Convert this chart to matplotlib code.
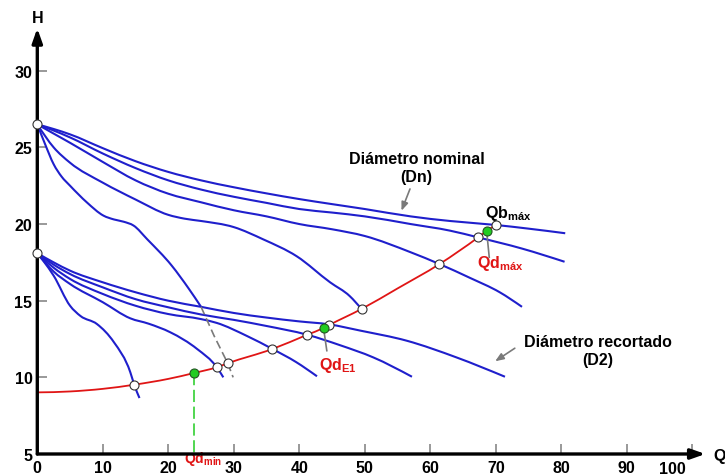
import matplotlib
matplotlib.use("Agg")
import matplotlib.pyplot as plt
from matplotlib.path import Path
from matplotlib.patches import PathPatch

plt.rcParams["font.family"] = ["Liberation Sans", "DejaVu Sans"]
plt.rcParams["font.weight"] = "bold"
plt.rcParams["mathtext.fontset"] = "custom"
plt.rcParams["mathtext.rm"] = "Liberation Sans:bold"
plt.rcParams["mathtext.bf"] = "Liberation Sans:bold"
plt.rcParams["mathtext.it"] = "Liberation Sans:bold"
plt.rcParams["mathtext.default"] = "rm"

# ---- Pump curves at nominal impeller diameter (Dn) ----
n1_q = [0, 2.5, 5, 10, 15, 20, 25, 30, 35, 40, 45, 50, 57, 63, 70, 75, 80.6]
n1_h = [26.5, 26.2, 25.85, 24.95, 24.1, 23.4, 22.85, 22.4, 22.0, 21.63, 21.3, 20.98, 20.5, 20.2, 19.94, 19.7, 19.4]
n2_q = [0, 2.5, 5, 10, 15, 20, 25, 30, 35, 40, 45, 50, 57, 63, 67.3, 74, 80.5]
n2_h = [26.5, 26.1, 25.65, 24.6, 23.65, 22.85, 22.25, 21.78, 21.38, 20.98, 20.75, 20.5, 20.0, 19.57, 19.13, 18.4, 17.54]
n3_q = [0, 2.5, 5, 10, 15, 20, 25, 30, 35, 40, 45, 50, 57, 61.4, 66, 70.6, 74]
n3_h = [26.5, 25.9, 25.3, 24.05, 22.85, 21.98, 21.42, 20.9, 20.5, 20.0, 19.66, 19.22, 18.16, 17.39, 16.5, 15.55, 14.6]
n4_q = [0, 2.5, 5, 10, 15, 20, 22.5, 25, 30, 34.5, 39.6, 44.7, 47.7, 49.5]
n4_h = [26.5, 25.0, 24.0, 22.7, 21.6, 20.6, 20.35, 20.2, 19.8, 19.0, 17.9, 16.2, 15.3, 14.46]
n5_q = [0, 1.2, 2.5, 3.7, 5, 7.6, 10.1, 11.7, 13.2, 14.7, 16.8, 20.5, 23.1, 25.0]
n5_h = [26.5, 25.2, 23.9, 23.1, 22.5, 21.4, 20.55, 20.3, 20.15, 19.9, 19.0, 17.3, 15.8, 14.6]
n5_ext_q = [25.0, 27.0, 29.07, 29.9]
n5_ext_h = [14.6, 12.7, 10.92, 10.0]

# ---- Pump curves at trimmed impeller diameter (D2) ----
r1_q = [0, 2.5, 5, 10, 15, 20, 25, 30, 35, 40, 44.5, 49.3, 56.4, 64, 71.4]
r1_h = [18.1, 17.5, 16.96, 16.2, 15.55, 15.0, 14.6, 14.2, 13.9, 13.65, 13.46, 13.05, 12.39, 11.3, 10.04]
r2_q = [0, 2.5, 5, 10, 15, 20, 25, 30, 35, 41.2, 46.2, 51.3, 57.2]
r2_h = [18.1, 17.35, 16.74, 15.87, 15.1, 14.57, 14.1, 13.75, 13.35, 12.78, 12.1, 11.3, 10.04]
r3_q = [0, 2.5, 5, 10, 15, 20, 25, 27.4, 32, 35.9, 39.5, 42.7]
r3_h = [18.1, 17.15, 16.42, 15.44, 14.67, 14.13, 13.8, 13.55, 12.7, 11.85, 11.0, 10.07]
r4_q = [0, 2.5, 5, 10, 14.2, 17, 20.3, 24.4, 27.4, 28.4]
r4_h = [18.1, 16.9, 16.09, 14.9, 13.85, 13.5, 12.94, 11.85, 10.66, 10.0]
r5_q = [0, 1, 2.5, 5, 6.6, 9.1, 11.7, 14.2, 14.8, 15.6]
r5_h = [18.1, 17.55, 16.63, 14.67, 14.0, 13.48, 12.29, 10.33, 9.52, 8.65]

# ---- System curve ----
sys_q = [0, 5, 10, 14.8, 20, 23.9, 27.4, 29.07, 35.9, 41.2, 43.7, 44.5, 49.5, 55, 61.4, 67.3, 68.6, 70.0]
sys_h = [9.02, 9.08, 9.25, 9.52, 9.9, 10.28, 10.66, 10.92, 11.85, 12.78, 13.22, 13.4, 14.46, 15.8, 17.39, 19.13, 19.55, 19.94]

# Intersections (open) and duty points (green)
open_q = [0, 0, 14.8, 27.4, 29.07, 35.9, 41.2, 44.5, 49.5, 61.4, 67.3, 70.0]
open_h = [26.5, 18.1, 9.52, 10.66, 10.92, 11.85, 12.78, 13.4, 14.46, 17.39, 19.13, 19.94]
duty_q = [23.9, 43.7, 68.6]
duty_h = [10.28, 13.22, 19.55]

x_ticks = [0, 10, 20, 30, 40, 50, 60, 70, 80, 90, 100]
y_ticks = [5, 10, 15, 20, 25, 30]

BLUE = "#1f1fcc"
RED = "#e01515"
GREEN = "#22cc22"
GRAY = "#7a7a7a"


def monotone_path(x, y):
    """Smooth monotone cubic (Fritsch-Carlson style) Bezier path through the points."""
    n = len(x)
    h = [x[i + 1] - x[i] for i in range(n - 1)]
    s = [(y[i + 1] - y[i]) / h[i] for i in range(n - 1)]
    m = [0.0] * n
    for i in range(1, n - 1):
        if s[i - 1] * s[i] <= 0:
            m[i] = 0.0
        else:
            p = (s[i - 1] * h[i] + s[i] * h[i - 1]) / (h[i - 1] + h[i])
            sign = 1 if s[i] > 0 else -1
            m[i] = sign * min(abs(s[i - 1]), abs(s[i]), 0.5 * abs(p)) * 2
    if n > 2:
        m[0] = (3 * s[0] - m[1]) / 2
        m[-1] = (3 * s[-1] - m[-2]) / 2
    else:
        m[0] = m[-1] = s[0]
    verts = [(x[0], y[0])]
    codes = [Path.MOVETO]
    for i in range(n - 1):
        d = h[i] / 3
        verts += [(x[i] + d, y[i] + m[i] * d), (x[i + 1] - d, y[i + 1] - m[i + 1] * d), (x[i + 1], y[i + 1])]
        codes += [Path.CURVE4] * 3
    return Path(verts, codes)


def draw_curve(ax, x, y, color, lw, z):
    ax.add_patch(PathPatch(monotone_path(x, y), fill=False, edgecolor=color, lw=lw,
                           joinstyle="round", capstyle="butt", zorder=z))


fig = plt.figure(figsize=(7.25, 4.77), dpi=100)
ax = fig.add_axes([37.3 / 725, 22 / 477, 687.7 / 725, 455 / 477])
ax.set_xlim(0, 687.7 / 6.55)
ax.set_ylim(5, 5 + 455 / 15.33)
for sp in ax.spines.values():
    sp.set_visible(False)

for q, hh in [(n1_q, n1_h), (n2_q, n2_h), (n3_q, n3_h), (n4_q, n4_h), (n5_q, n5_h),
              (r1_q, r1_h), (r2_q, r2_h), (r3_q, r3_h), (r4_q, r4_h), (r5_q, r5_h)]:
    draw_curve(ax, q, hh, BLUE, 1.5, 3)
ax.plot(n5_ext_q, n5_ext_h, color=GRAY, lw=1.2, ls=(0, (5, 2.5)), zorder=3)

draw_curve(ax, sys_q, sys_h, RED, 1.3, 4)

# Qd_min drop line to the Q axis
ax.plot([duty_q[0], duty_q[0]], [duty_h[0], 5], color=GREEN, lw=1.1, ls=(0, (8, 3)), zorder=2)

# Leader lines for the duty point labels
ax.plot([duty_q[1], 44.2], [duty_h[1], 11.74], color=GRAY, lw=1.2, zorder=4)
ax.plot([duty_q[2], 69.0], [duty_h[2], 17.83], color=GRAY, lw=1.2, zorder=4)

ax.plot(open_q, open_h, "o", ms=6.5, mfc="white", mec="#333333", mew=0.8, zorder=6, clip_on=False)
ax.plot(duty_q, duty_h, "o", ms=6.5, mfc=GREEN, mec="#225522", mew=0.8, zorder=6)

# Axes with arrows
arrow = dict(arrowstyle="-|>,head_length=0.85,head_width=0.3", color="black", lw=2.4,
             shrinkA=0, shrinkB=0, mutation_scale=10)
ax.annotate("", xy=(102.0, 5), xytext=(0, 5), arrowprops=arrow, annotation_clip=False, zorder=5)
ax.annotate("", xy=(0, 32.77), xytext=(0, 5), arrowprops=arrow, annotation_clip=False, zorder=5)

ax.set_xticks(x_ticks)
ax.set_xticklabels([str(v) for v in x_ticks[:-1]] + [""])
ax.set_yticks(y_ticks)
ax.set_yticklabels([str(v) for v in y_ticks])
ax.tick_params(axis="both", direction="in", length=7, width=1.2, color="#888888", labelsize=11.5)
ax.tick_params(axis="x", pad=4.5)
ax.tick_params(axis="y", pad=3.5)
for lab in ax.get_xticklabels() + ax.get_yticklabels():
    lab.set_fontweight("bold")
ax.text(97.0, 4.55, str(x_ticks[-1]), ha="center", va="top", fontsize=11.5,
        fontweight="bold", clip_on=False)

ax.text(0, 33.49, "H", ha="center", va="center", fontsize=11.5, fontweight="bold", clip_on=False)
ax.text(104.1, 4.93, "Q", ha="center", va="center", fontsize=11.5, fontweight="bold", clip_on=False)

# Annotations
ax.text(57.9, 23.7, "Diámetro nominal\n(Dn)", ha="center", va="center", fontsize=11.5,
        fontweight="bold", linespacing=1.25)
ax.annotate("", xy=(55.6, 20.87), xytext=(56.9, 22.29),
            arrowprops=dict(arrowstyle="-|>,head_length=0.5,head_width=0.2", color=GRAY, lw=1.2,
                            shrinkA=0, shrinkB=0, mutation_scale=10))
ax.text(85.6, 11.72, "Diámetro recortado\n(D2)", ha="center", va="center", fontsize=11.5,
        fontweight="bold", linespacing=1.25)
ax.annotate("", xy=(69.9, 11.05), xytext=(72.9, 11.9),
            arrowprops=dict(arrowstyle="-|>,head_length=0.5,head_width=0.2", color=GRAY, lw=1.2,
                            shrinkA=0, shrinkB=0, mutation_scale=10))

ax.text(68.35, 20.44, r"Qb$_{máx}$", ha="left", va="baseline", fontsize=11.5, color="black")
ax.text(67.1, 17.18, r"Qd$_{máx}$", ha="left", va="baseline", fontsize=11.5, color=RED)
ax.text(43.05, 10.54, r"Qd$_{E1}$", ha="left", va="baseline", fontsize=11.5, color=RED)
ax.text(22.4, 4.45, r"Qd$_{min}$", ha="left", va="baseline", fontsize=10, color=RED, clip_on=False)

fig.savefig("out.png", dpi=100)
